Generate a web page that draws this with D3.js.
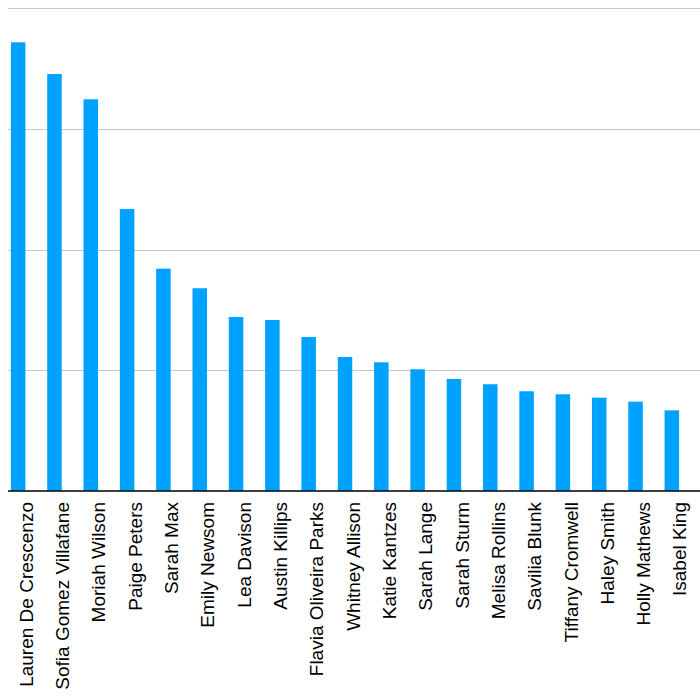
<!DOCTYPE html>
<html>
<head>
<meta charset="utf-8">
<script src="https://cdn.jsdelivr.net/npm/d3@7"></script>
<style>
html, body { margin: 0; padding: 0; background: #fff; }
svg { display: block; }
</style>
</head>
<body>
<script>
const names = ["Lauren De Crescenzo", "Sofia Gomez Villafane", "Moriah Wilson", "Paige Peters", "Sarah Max",
  "Emily Newsom", "Lea Davison", "Austin Killips", "Flavia Oliveira Parks", "Whitney Allison",
  "Katie Kantzes", "Sarah Lange", "Sarah Sturm", "Melisa Rollins", "Savilia Blunk",
  "Tiffany Cromwell", "Haley Smith", "Holly Mathews", "Isabel King"];
const values = [371.6, 345.3, 324.4, 233.5, 184.1, 167.9, 144.1, 141.6, 127.5, 111.0,
  106.6, 100.8, 92.8, 88.4, 82.6, 80.1, 77.3, 74.0, 66.8];
const gridTicks = [0, 100, 200, 300, 400];

const W = 700, H = 700;
const svg = d3.select("body").append("svg").attr("width", W).attr("height", H);

const x = d3.scaleBand().domain(names).range([0, 690]).paddingInner(0.6).paddingOuter(0.3);
const y = d3.scaleLinear().domain([0, 400]).range([491, 8]);

// gridlines
svg.append("g").selectAll("line").data(gridTicks.filter(d => d > 0)).join("line")
  .attr("x1", 8).attr("x2", W)
  .attr("y1", d => Math.round(y(d)) + 0.5).attr("y2", d => Math.round(y(d)) + 0.5)
  .attr("stroke", "#c8c8c8").attr("stroke-width", 1.2);

// bars
svg.append("g").selectAll("rect").data(values).join("rect")
  .attr("x", (d, i) => x(names[i]))
  .attr("width", x.bandwidth())
  .attr("y", d => y(d))
  .attr("height", d => y(0) - y(d))
  .attr("fill", "#00a2ff");

// baseline
svg.append("line").attr("x1", 8).attr("x2", W)
  .attr("y1", y(0)).attr("y2", y(0))
  .attr("stroke", "#000").attr("stroke-width", 1.5);

// labels
svg.append("g").selectAll("text").data(names).join("text")
  .attr("transform", d => `translate(${x(d) + x.bandwidth() / 2},502) rotate(-90)`)
  .attr("text-anchor", "end")
  .attr("dy", "0.77em")
  .attr("font-family", "'Liberation Sans', Arial, Helvetica, sans-serif")
  .attr("font-size", 19)
  .attr("fill", "#000")
  .text(d => d);
</script>
</body>
</html>
